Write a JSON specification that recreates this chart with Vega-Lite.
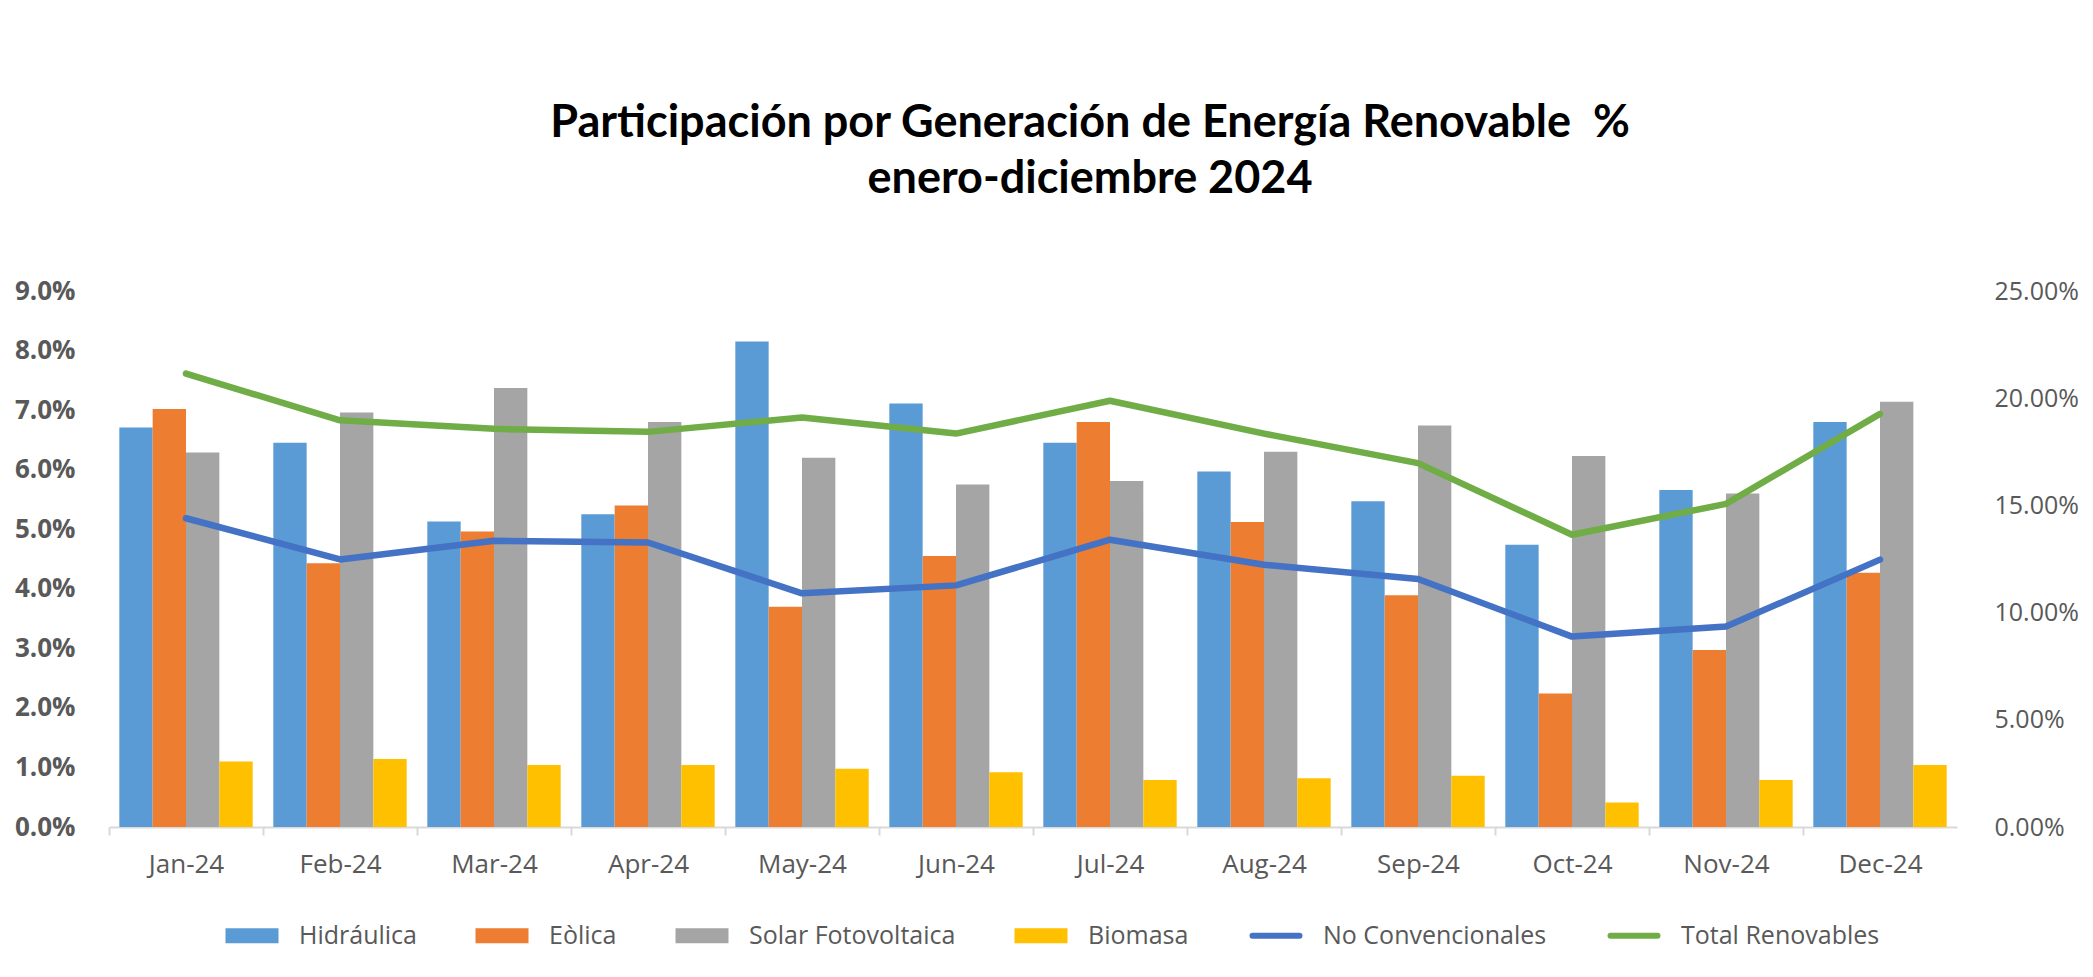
{
  "$schema": "https://vega.github.io/schema/vega-lite/v6.json",
  "width": 1848,
  "height": 536,
  "autosize": {"type": "none"},
  "padding": {"left": 109, "top": 291, "right": 136, "bottom": 150},
  "background": "white",
  "config": {"view": {"stroke": null}},
  "title": {
    "text": ["Participación por Generación de Energía Renovable \u00a0%", "enero-diciembre 2024"],
    "font": "Lato",
    "fontSize": 45,
    "fontWeight": "bold",
    "color": "#000000",
    "anchor": "middle",
    "frame": "group",
    "dx": 57,
    "lineHeight": 56,
    "offset": 76
  },
  "data": {
    "values": [
      {"mes": "Jan-24", "serie": "Hidráulica", "tipo": "bar", "valor": 0.0671},
      {"mes": "Jan-24", "serie": "Eòlica", "tipo": "bar", "valor": 0.0702},
      {"mes": "Jan-24", "serie": "Solar Fotovoltaica", "tipo": "bar", "valor": 0.0629},
      {"mes": "Jan-24", "serie": "Biomasa", "tipo": "bar", "valor": 0.0110},
      {"mes": "Feb-24", "serie": "Hidráulica", "tipo": "bar", "valor": 0.0645},
      {"mes": "Feb-24", "serie": "Eòlica", "tipo": "bar", "valor": 0.0443},
      {"mes": "Feb-24", "serie": "Solar Fotovoltaica", "tipo": "bar", "valor": 0.0696},
      {"mes": "Feb-24", "serie": "Biomasa", "tipo": "bar", "valor": 0.0114},
      {"mes": "Mar-24", "serie": "Hidráulica", "tipo": "bar", "valor": 0.0513},
      {"mes": "Mar-24", "serie": "Eòlica", "tipo": "bar", "valor": 0.0496},
      {"mes": "Mar-24", "serie": "Solar Fotovoltaica", "tipo": "bar", "valor": 0.0737},
      {"mes": "Mar-24", "serie": "Biomasa", "tipo": "bar", "valor": 0.0104},
      {"mes": "Apr-24", "serie": "Hidráulica", "tipo": "bar", "valor": 0.0525},
      {"mes": "Apr-24", "serie": "Eòlica", "tipo": "bar", "valor": 0.0540},
      {"mes": "Apr-24", "serie": "Solar Fotovoltaica", "tipo": "bar", "valor": 0.0680},
      {"mes": "Apr-24", "serie": "Biomasa", "tipo": "bar", "valor": 0.0104},
      {"mes": "May-24", "serie": "Hidráulica", "tipo": "bar", "valor": 0.0815},
      {"mes": "May-24", "serie": "Eòlica", "tipo": "bar", "valor": 0.0370},
      {"mes": "May-24", "serie": "Solar Fotovoltaica", "tipo": "bar", "valor": 0.0620},
      {"mes": "May-24", "serie": "Biomasa", "tipo": "bar", "valor": 0.0098},
      {"mes": "Jun-24", "serie": "Hidráulica", "tipo": "bar", "valor": 0.0711},
      {"mes": "Jun-24", "serie": "Eòlica", "tipo": "bar", "valor": 0.0455},
      {"mes": "Jun-24", "serie": "Solar Fotovoltaica", "tipo": "bar", "valor": 0.0575},
      {"mes": "Jun-24", "serie": "Biomasa", "tipo": "bar", "valor": 0.0092},
      {"mes": "Jul-24", "serie": "Hidráulica", "tipo": "bar", "valor": 0.0645},
      {"mes": "Jul-24", "serie": "Eòlica", "tipo": "bar", "valor": 0.0680},
      {"mes": "Jul-24", "serie": "Solar Fotovoltaica", "tipo": "bar", "valor": 0.0581},
      {"mes": "Jul-24", "serie": "Biomasa", "tipo": "bar", "valor": 0.0079},
      {"mes": "Aug-24", "serie": "Hidráulica", "tipo": "bar", "valor": 0.0597},
      {"mes": "Aug-24", "serie": "Eòlica", "tipo": "bar", "valor": 0.0512},
      {"mes": "Aug-24", "serie": "Solar Fotovoltaica", "tipo": "bar", "valor": 0.0630},
      {"mes": "Aug-24", "serie": "Biomasa", "tipo": "bar", "valor": 0.0082},
      {"mes": "Sep-24", "serie": "Hidráulica", "tipo": "bar", "valor": 0.0547},
      {"mes": "Sep-24", "serie": "Eòlica", "tipo": "bar", "valor": 0.0389},
      {"mes": "Sep-24", "serie": "Solar Fotovoltaica", "tipo": "bar", "valor": 0.0674},
      {"mes": "Sep-24", "serie": "Biomasa", "tipo": "bar", "valor": 0.0086},
      {"mes": "Oct-24", "serie": "Hidráulica", "tipo": "bar", "valor": 0.0474},
      {"mes": "Oct-24", "serie": "Eòlica", "tipo": "bar", "valor": 0.0224},
      {"mes": "Oct-24", "serie": "Solar Fotovoltaica", "tipo": "bar", "valor": 0.0623},
      {"mes": "Oct-24", "serie": "Biomasa", "tipo": "bar", "valor": 0.0041},
      {"mes": "Nov-24", "serie": "Hidráulica", "tipo": "bar", "valor": 0.0566},
      {"mes": "Nov-24", "serie": "Eòlica", "tipo": "bar", "valor": 0.0297},
      {"mes": "Nov-24", "serie": "Solar Fotovoltaica", "tipo": "bar", "valor": 0.0560},
      {"mes": "Nov-24", "serie": "Biomasa", "tipo": "bar", "valor": 0.0079},
      {"mes": "Dec-24", "serie": "Hidráulica", "tipo": "bar", "valor": 0.0680},
      {"mes": "Dec-24", "serie": "Eòlica", "tipo": "bar", "valor": 0.0427},
      {"mes": "Dec-24", "serie": "Solar Fotovoltaica", "tipo": "bar", "valor": 0.0714},
      {"mes": "Dec-24", "serie": "Biomasa", "tipo": "bar", "valor": 0.0104},
      {"mes": "Jan-24", "serie": "No Convencionales", "tipo": "line", "valor": 0.1440},
      {"mes": "Feb-24", "serie": "No Convencionales", "tipo": "line", "valor": 0.1248},
      {"mes": "Mar-24", "serie": "No Convencionales", "tipo": "line", "valor": 0.1335},
      {"mes": "Apr-24", "serie": "No Convencionales", "tipo": "line", "valor": 0.1327},
      {"mes": "May-24", "serie": "No Convencionales", "tipo": "line", "valor": 0.1090},
      {"mes": "Jun-24", "serie": "No Convencionales", "tipo": "line", "valor": 0.1127},
      {"mes": "Jul-24", "serie": "No Convencionales", "tipo": "line", "valor": 0.1340},
      {"mes": "Aug-24", "serie": "No Convencionales", "tipo": "line", "valor": 0.1223},
      {"mes": "Sep-24", "serie": "No Convencionales", "tipo": "line", "valor": 0.1157},
      {"mes": "Oct-24", "serie": "No Convencionales", "tipo": "line", "valor": 0.0888},
      {"mes": "Nov-24", "serie": "No Convencionales", "tipo": "line", "valor": 0.0935},
      {"mes": "Dec-24", "serie": "No Convencionales", "tipo": "line", "valor": 0.1247},
      {"mes": "Jan-24", "serie": "Total Renovables", "tipo": "line", "valor": 0.2115},
      {"mes": "Feb-24", "serie": "Total Renovables", "tipo": "line", "valor": 0.1897},
      {"mes": "Mar-24", "serie": "Total Renovables", "tipo": "line", "valor": 0.1857},
      {"mes": "Apr-24", "serie": "Total Renovables", "tipo": "line", "valor": 0.1843},
      {"mes": "May-24", "serie": "Total Renovables", "tipo": "line", "valor": 0.1910},
      {"mes": "Jun-24", "serie": "Total Renovables", "tipo": "line", "valor": 0.1835},
      {"mes": "Jul-24", "serie": "Total Renovables", "tipo": "line", "valor": 0.1988},
      {"mes": "Aug-24", "serie": "Total Renovables", "tipo": "line", "valor": 0.1835},
      {"mes": "Sep-24", "serie": "Total Renovables", "tipo": "line", "valor": 0.1697},
      {"mes": "Oct-24", "serie": "Total Renovables", "tipo": "line", "valor": 0.1363},
      {"mes": "Nov-24", "serie": "Total Renovables", "tipo": "line", "valor": 0.1507},
      {"mes": "Dec-24", "serie": "Total Renovables", "tipo": "line", "valor": 0.1927}
    ]
  },
  "layer": [
    {
      "transform": [{"filter": "datum.tipo == 'bar'"}],
      "mark": {"type": "bar"},
      "encoding": {
        "x": {
          "field": "mes", "type": "nominal",
          "sort": ["Jan-24","Feb-24","Mar-24","Apr-24","May-24","Jun-24","Jul-24","Aug-24","Sep-24","Oct-24","Nov-24","Dec-24"],
          "scale": {"type": "band", "paddingInner": 0.134, "paddingOuter": 0.067},
          "axis": {
            "title": null, "orient": "bottom", "labelAngle": 0,
            "bandPosition": 0.5, "tickOffset": -77, "labelOffset": 77,
            "tickSize": 8, "tickColor": "#d9d9d9", "tickWidth": 2,
            "domainColor": "#d9d9d9", "domainWidth": 2, "grid": false,
            "labelFont": "Open Sans", "labelFontSize": 26, "labelColor": "#595959",
            "labelPadding": 16
          }
        },
        "xOffset": {
          "field": "serie", "type": "nominal",
          "sort": ["Hidráulica","Eòlica","Solar Fotovoltaica","Biomasa"],
          "scale": {"paddingInner": 0, "paddingOuter": 0}
        },
        "y": {
          "field": "valor", "type": "quantitative",
          "scale": {"domain": [0, 0.09], "nice": false},
          "axis": {
            "title": null, "orient": "left",
            "values": [0,0.01,0.02,0.03,0.04,0.05,0.06,0.07,0.08,0.09],
            "format": ".1%", "grid": false, "domain": false, "ticks": false,
            "labelFont": "Open Sans", "labelFontWeight": "bold", "labelFontSize": 26,
            "labelColor": "#595959", "labelPadding": 34
          }
        },
        "color": {
          "field": "serie", "type": "nominal",
          "scale": {
            "domain": ["Hidráulica","Eòlica","Solar Fotovoltaica","Biomasa","No Convencionales","Total Renovables"],
            "range": ["#5B9BD5","#ED7D31","#A5A5A5","#FFC000","#4472C4","#70AD47"]
          },
          "legend": {
            "title": null, "orient": "none", "direction": "horizontal",
            "legendX": 109, "legendY": 632, "padding": 0,
            "symbolSize": 100, "labelOffset": 56, "columnPadding": 51,
            "labelFont": "Open Sans", "labelFontSize": 25, "labelColor": "#595959", "labelLimit": 500,
            "encode": {
              "symbols": {
                "update": {
                  "shape": {"signal": "indexof(['No Convencionales','Total Renovables'], datum.value) >= 0 ? 'M-0.4,0H9' : 'M-1,-1.5H9.6V1.5H-1Z'"},
                  "fill": {"signal": "indexof(['No Convencionales','Total Renovables'], datum.value) >= 0 ? 'transparent' : scale('color', datum.value)"},
                  "stroke": {"signal": "scale('color', datum.value)"},
                  "strokeWidth": {"signal": "indexof(['No Convencionales','Total Renovables'], datum.value) >= 0 ? 6 : 0"},
                  "strokeCap": {"value": "round"},
                  "opacity": {"value": 1}
                }
              }
            }
          }
        }
      }
    },
    {
      "transform": [{"filter": "datum.tipo == 'line'"}],
      "mark": {"type": "line", "strokeWidth": 6.5, "strokeCap": "round", "strokeJoin": "round"},
      "encoding": {
        "x": {
          "field": "mes", "type": "nominal",
          "sort": ["Jan-24","Feb-24","Mar-24","Apr-24","May-24","Jun-24","Jul-24","Aug-24","Sep-24","Oct-24","Nov-24","Dec-24"],
          "axis": {
            "title": null, "orient": "bottom", "labelAngle": 0,
            "bandPosition": 0.5, "tickOffset": -77, "labelOffset": 77,
            "tickSize": 8, "tickColor": "#d9d9d9", "tickWidth": 2,
            "domainColor": "#d9d9d9", "domainWidth": 2, "grid": false,
            "labelFont": "Open Sans", "labelFontSize": 26, "labelColor": "#595959",
            "labelPadding": 16
          }
        },
        "y": {
          "field": "valor", "type": "quantitative",
          "scale": {"domain": [0, 0.25], "nice": false},
          "axis": {
            "title": null, "orient": "right",
            "values": [0,0.05,0.10,0.15,0.20,0.25],
            "format": ".2%", "grid": false, "domain": false, "ticks": false,
            "labelFont": "Open Sans", "labelFontSize": 25,
            "labelColor": "#595959", "labelPadding": 37
          }
        },
        "color": {
          "field": "serie", "type": "nominal",
          "scale": {
            "domain": ["Hidráulica","Eòlica","Solar Fotovoltaica","Biomasa","No Convencionales","Total Renovables"],
            "range": ["#5B9BD5","#ED7D31","#A5A5A5","#FFC000","#4472C4","#70AD47"]
          },
          "legend": {
            "title": null, "orient": "none", "direction": "horizontal",
            "legendX": 109, "legendY": 632, "padding": 0,
            "symbolSize": 100, "labelOffset": 56, "columnPadding": 51,
            "labelFont": "Open Sans", "labelFontSize": 25, "labelColor": "#595959", "labelLimit": 500,
            "encode": {
              "symbols": {
                "update": {
                  "shape": {"signal": "indexof(['No Convencionales','Total Renovables'], datum.value) >= 0 ? 'M-0.4,0H9' : 'M-1,-1.5H9.6V1.5H-1Z'"},
                  "fill": {"signal": "indexof(['No Convencionales','Total Renovables'], datum.value) >= 0 ? 'transparent' : scale('color', datum.value)"},
                  "stroke": {"signal": "scale('color', datum.value)"},
                  "strokeWidth": {"signal": "indexof(['No Convencionales','Total Renovables'], datum.value) >= 0 ? 6 : 0"},
                  "strokeCap": {"value": "round"},
                  "opacity": {"value": 1}
                }
              }
            }
          }
        }
      }
    }
  ],
  "resolve": {"scale": {"y": "independent"}}
}
